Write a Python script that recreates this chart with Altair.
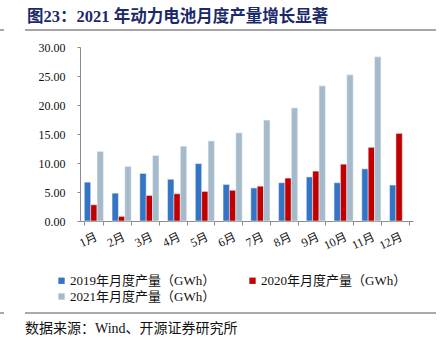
import altair as alt
import pandas as pd

months = ["1月", "2月", "3月", "4月", "5月", "6月", "7月", "8月", "9月", "10月", "11月", "12月"]
series = ["2019年月度产量（GWh）", "2020年月度产量（GWh）", "2021年月度产量（GWh）"]
v2019 = [6.7, 4.8, 8.2, 7.2, 9.9, 6.3, 5.7, 6.6, 7.6, 6.6, 9.0, 6.2]
v2020 = [2.8, 0.8, 4.4, 4.7, 5.1, 5.3, 6.0, 7.4, 8.6, 9.8, 12.7, 15.1]
v2021 = [12.0, 9.4, 11.3, 12.9, 13.8, 15.2, 17.4, 19.5, 23.3, 25.2, 28.3, None]
colors = ["#3474C7", "#C00000", "#A5BBCB"]

title_text = "图23：2021 年动力电池月度产量增长显著"
source_text = "数据来源：Wind、开源证券研究所"

rows = []
for s, vals in zip(series, [v2019, v2020, v2021]):
    for m, v in zip(months, vals):
        if v is not None:
            rows.append({"month": m, "series": s, "value": v})
df = pd.DataFrame(rows)

# legend grid fills column-major: order so that rows read 2019, 2020 / 2021
legend_domain = [series[0], series[2], series[1]]
legend_range = [colors[0], colors[2], colors[1]]

SERIF = "Liberation Serif, Noto Sans CJK SC"

bars = alt.Chart(df).mark_bar(stroke="#f4f6f8", strokeWidth=0.5).encode(
    x=alt.X("month:N", sort=months, title=None,
            scale=alt.Scale(paddingInner=0.31, paddingOuter=0.155),
            axis=alt.Axis(labelAngle=-25, labelAlign="right", labelBaseline="top",
                          labelPadding=6, tickBand="extent", tickSize=4,
                          domainColor="#8c8c8c", tickColor="#8c8c8c",
                          labelFont=SERIF, labelFontSize=12, labelColor="#111")),
    xOffset=alt.XOffset("series:N", sort=series, scale=alt.Scale(paddingInner=0, paddingOuter=0)),
    y=alt.Y("value:Q", title=None,
            scale=alt.Scale(domain=[0, 30]),
            axis=alt.Axis(values=[0, 5, 10, 15, 20, 25, 30], format=".2f", grid=False,
                          tickSize=3, labelPadding=12, domainColor="#8c8c8c",
                          tickColor="#8c8c8c", labelFont=SERIF, labelFontSize=12,
                          labelColor="#111")),
    color=alt.Color("series:N", scale=alt.Scale(domain=legend_domain, range=legend_range),
                    legend=alt.Legend(title=None, orient="none", legendX=-25, legendY=227,
                                      columns=2, symbolType="square", symbolSize=40,
                                      symbolStrokeWidth=0, labelFont=SERIF, labelFontSize=13,
                                      labelColor="#111", columnPadding=30, rowPadding=2,
                                      labelOffset=2, labelLimit=300)),
)

blank = alt.Data(values=[{"a": 1}])

rule_top = alt.Chart(blank).mark_rule(color="#8a8a8a", strokeWidth=1.5).encode(
    x=alt.value(-55), x2=alt.value(356), y=alt.value(-17))
rule_top_l = alt.Chart(blank).mark_rule(color="#8a8a8a", strokeWidth=1.5).encode(
    x=alt.value(-80), x2=alt.value(-76), y=alt.value(-17))
rule_bot = alt.Chart(blank).mark_rule(color="#555", strokeWidth=1).encode(
    x=alt.value(-55), x2=alt.value(356), y=alt.value(266))
rule_bot_l = alt.Chart(blank).mark_rule(color="#555", strokeWidth=1).encode(
    x=alt.value(-80), x2=alt.value(-76), y=alt.value(266))

title = alt.Chart(blank).mark_text(align="left", baseline="alphabetic", fontSize=16.5,
                                   fontWeight="bold", color="#1B2A6B",
                                   font="Liberation Serif, Noto Sans CJK SC").encode(
    x=alt.value(-53), y=alt.value(-25), text=alt.value(title_text))
source = alt.Chart(blank).mark_text(align="left", baseline="alphabetic", fontSize=14,
                                    color="#111", font=SERIF).encode(
    x=alt.value(-55), y=alt.value(286), text=alt.value(source_text))

chart = alt.layer(bars, rule_top, rule_top_l, rule_bot, rule_bot_l, title, source).properties(
    width=333, height=174,
    autosize=alt.AutoSizeParams(type="none"),
    padding={"left": 80, "top": 47, "right": 34, "bottom": 119},
).configure_view(stroke=None)

chart.save("out.html", embed_options={"renderer": "svg", "actions": False})
